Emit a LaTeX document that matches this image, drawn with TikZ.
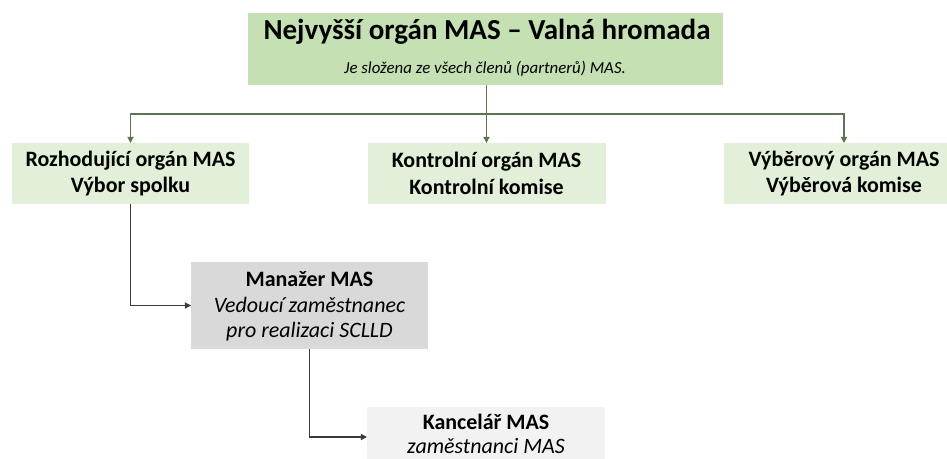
\documentclass[tikz,border=0pt]{standalone}
\usepackage{fontspec}
\setmainfont{Carlito}
\usetikzlibrary{arrows.meta}
\definecolor{topgreen}{HTML}{C5E0B3}
\definecolor{midgreen}{HTML}{E2EFD9}
\definecolor{mgrgray}{HTML}{D9D9D9}
\definecolor{kancgray}{HTML}{F2F2F2}
\definecolor{linegreen}{HTML}{5E7356}
\definecolor{linedark}{HTML}{3A3A3A}
\newlength{\pxu}
\setlength{\pxu}{0.02cm}
\tikzset{
  box/.style={draw=none, inner sep=0pt, outer sep=0pt},
  txt/.style={inner sep=0pt, align=center},
  midbox/.style={box, fill=midgreen, minimum width=237\pxu, minimum height=61\pxu, align=center, font=\fontsize{12.5}{15}\selectfont\bfseries},
  greenarrow/.style={draw=linegreen, line width=0.7pt, -{Triangle[length=3.5pt,width=3.5pt]}},
  greenline/.style={draw=linegreen, line width=0.7pt},
  darkarrow/.style={draw=linedark, line width=0.7pt, -{Triangle[length=3.5pt,width=3.5pt]}},
}
\begin{document}
\begin{tikzpicture}[x=0.02cm, y=-0.02cm]
\clip (0,0) rectangle (947,459);
\fill[white] (0,0) rectangle (947,459);
% top box
\node[box, fill=topgreen, minimum width=475\pxu, minimum height=72\pxu] (top) at (485.5,49) {};
\node[txt, anchor=base, font=\fontsize{16.5}{18}\selectfont\bfseries] (toptitle) at (487,40) {Nejvyšší orgán MAS – Valná hromada};
\node[txt, anchor=base, font=\fontsize{9.6}{12}\selectfont\itshape] (topsub) at (485,74) {Je složena ze všech členů (partnerů) MAS.};
% middle row
\node[midbox] (left) at (130.5,173.5) {Rozhodující orgán MAS\\Výbor spolku};
\node[midbox, minimum width=238\pxu] (mid) at (486.5,173.5) {Kontrolní orgán MAS\\Kontrolní komise};
\node[midbox, minimum width=240\pxu] (right) at (844,173.5) {Výběrový orgán MAS\\Výběrová komise};
% manager
\node[box, fill=mgrgray, minimum width=237\pxu, minimum height=87\pxu] (mgr) at (309.5,305.5) {};
\node[txt, font=\fontsize{12.5}{14.6}\selectfont] (mgrtext) at (309.5,306.5) {\textbf{Manažer MAS}\\\textit{Vedoucí zaměstnanec}\\\textit{pro realizaci SCLLD}};
% office
\node[box, fill=kancgray, minimum width=238\pxu, minimum height=60\pxu] (kanc) at (486,437) {};
\node[txt, font=\fontsize{12.5}{14}\selectfont] (kanctext) at (486,434) {\textbf{Kancelář MAS}\\\textit{zaměstnanci MAS}};
% connectors
\coordinate (hub) at (486.5,114);
\draw[greenline] (top.south -| hub) -- (hub);
\draw[greenarrow] (hub) -| (left.north);
\draw[greenarrow] (hub) -- (mid.north);
\draw[greenarrow] (hub) -| (right.north);
\draw[darkarrow] (left.south) |- (mgr.west);
\draw[darkarrow] (mgr.south) |- (kanc.west);
\end{tikzpicture}
\end{document}
